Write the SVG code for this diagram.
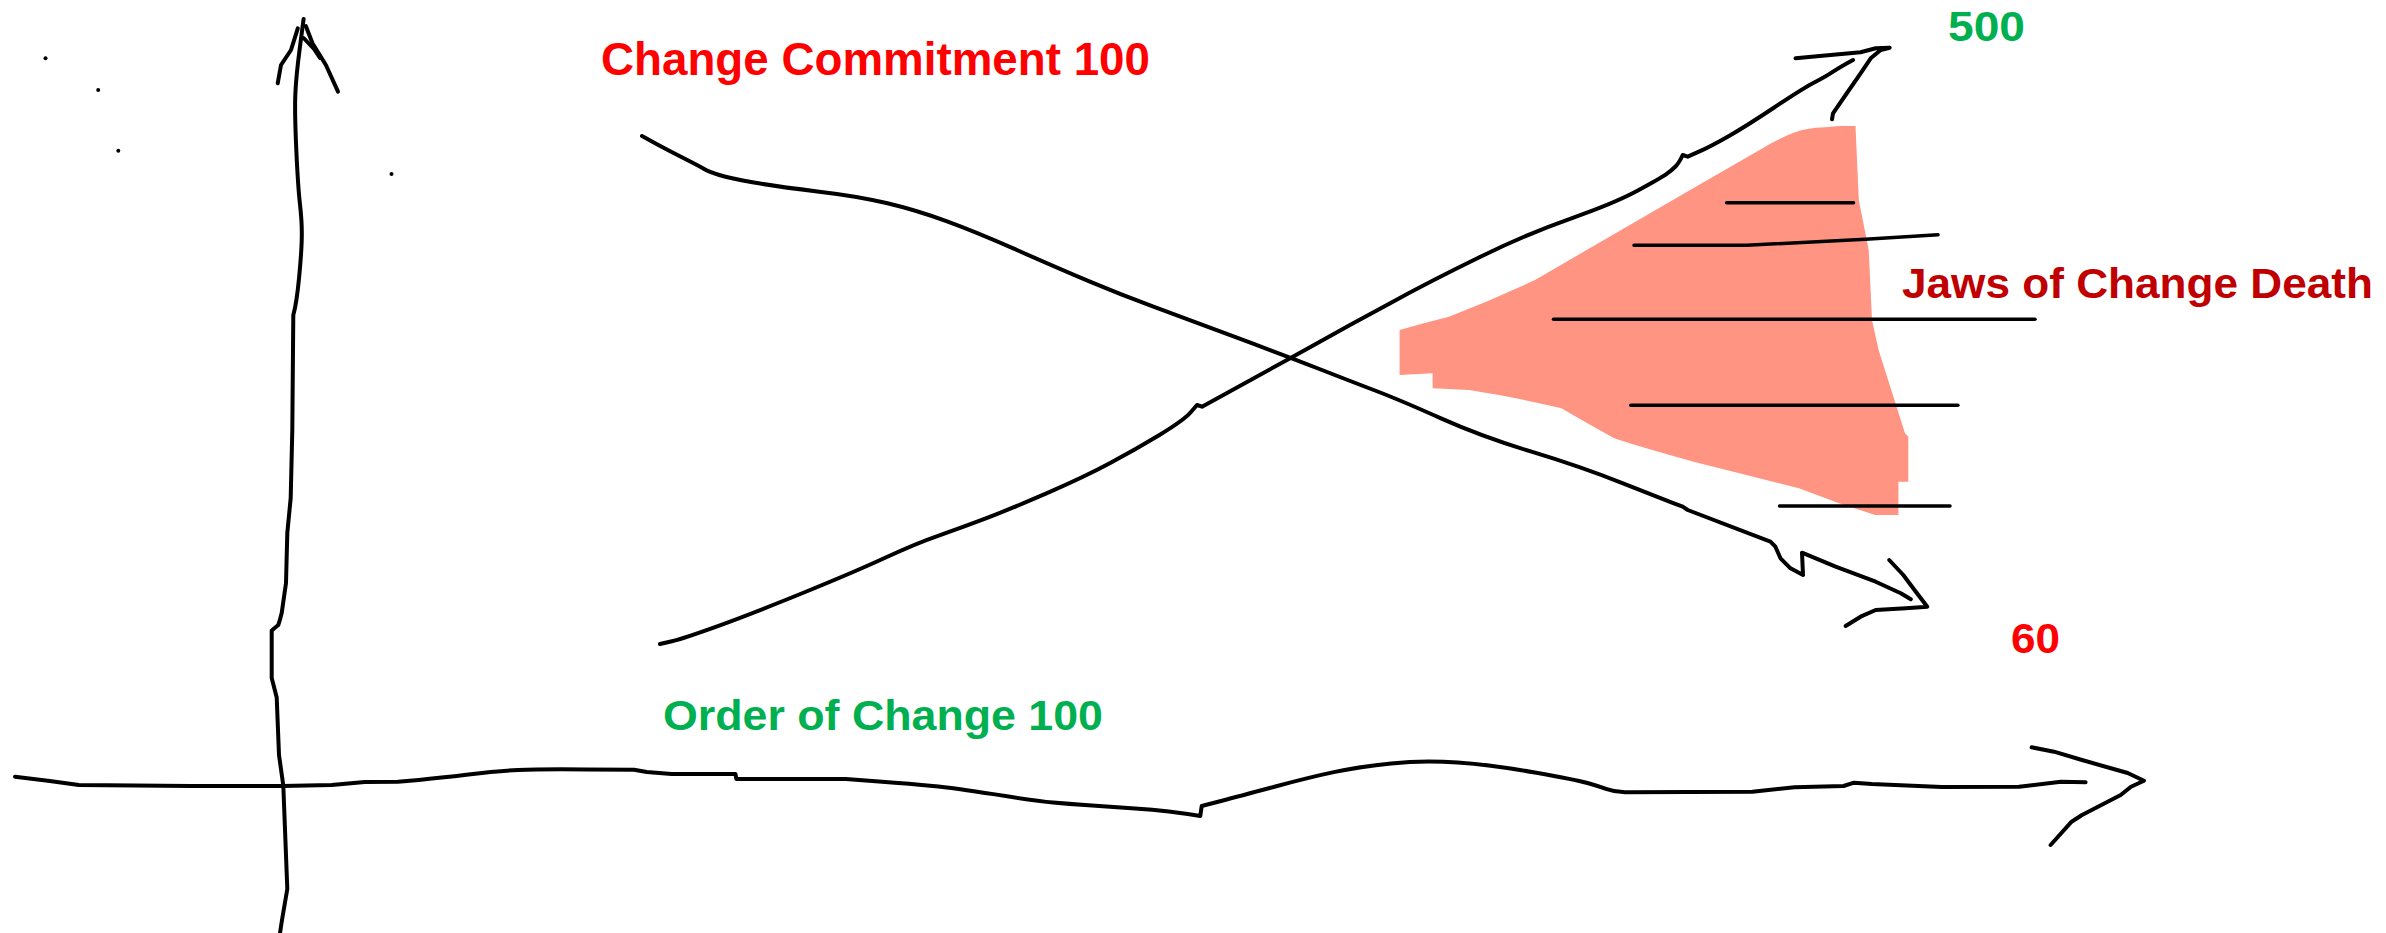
<svg xmlns="http://www.w3.org/2000/svg" width="2386" height="933" viewBox="0 0 2386 933">
<style>
.ink{fill:none;stroke:#000;stroke-width:4;stroke-linecap:round;stroke-linejoin:round}
.thick{stroke-width:4}
.jaw{stroke-width:3.5}
.lbl{font-family:"Liberation Sans",Arial,sans-serif;font-weight:bold}
.dot{fill:#000}
</style>
<rect width="2386" height="933" fill="#fff"/>
<g id="jaws-region">
<path fill="#FF9482" d="M1399.6,330 Q1420,324 1449,316.7 Q1492,300 1535,280 Q1591,247.5 1647,215 Q1703,182.5 1759.6,150 Q1790,132 1806,129.3 Q1815,127.5 1825.7,127.3 L1839,126 L1855.5,126 L1858.8,200 L1868.7,250 L1872,320 L1878.6,350 L1905,433.3 L1908.3,436.7 L1908.3,481.7 L1898.4,481.7 L1898.4,515 L1875.3,515 L1839,503.3 L1799,488.3 L1693.6,461.7 Q1640,447 1614.3,438.3 Q1590,425 1561.4,408.3 Q1515,397 1469,390 L1432.6,388.3 L1432.6,373.3 L1399.6,375 Z"/>
</g>
<g id="dots">
<circle class="dot" cx="45.5" cy="58.3" r="2"/>
<circle class="dot" cx="98.2" cy="90" r="2"/>
<circle class="dot" cx="118.3" cy="150.7" r="2"/>
<circle class="dot" cx="391.5" cy="174" r="2"/>
</g>
<g id="connectors">
<g id="y-axis">
<path class="ink" d="M303.6,19 L299.8,48 Q296,77 295.3,95 Q294.6,113 296.3,150 Q298,187 300,204.5 Q302,222 301.8,236 Q301.7,250 299.2,276.5 Q296.7,303 293.3,315 L292.3,430 L290.7,498 L287.3,533 L286,583 Q283.8,598 281.7,613 Q280,620 278.3,625 L271.7,630.5 L271.7,678 L276.7,697.5 L279,755 L283.3,785.5 L287.3,889 L282,920 L280,933"/>
<polyline class="ink" points="297.8,28.3 291,50 281,65 277.7,83.3"/>
<polyline class="ink" points="305.8,26 312.5,43.3 325.9,65 338,91.7"/>
<polyline class="ink" points="303.6,38 314,49 320,58"/>
</g>
<g id="x-axis">
<path class="ink thick" d="M15,776.7 L49.8,781 L78.8,785 L190.7,786 L282,786 L331.7,785 L364.8,782 L398,781.7 L418.8,779.9 Q439.5,778 468.5,774.5 Q497.5,771 518.3,770 Q539,769 586.5,769.4 L634,769.7 L646.8,772 L671.6,774 L735.5,774 L736.3,779 L845.8,779 L878.9,781.5 Q912,784 932.8,785.9 Q953.6,787.7 995,794.4 Q1036.5,801 1053.1,802.5 Q1069.7,804 1084.9,805 Q1100,806 1135,808.4 Q1170,810.7 1200.3,816 L1201.7,806 L1221,801 Q1240.3,796 1275.4,786.5 Q1310.5,777 1335,771.9 Q1359.6,766.7 1391.2,763.4 Q1422.7,760 1457.8,762.5 Q1492.8,765 1534.9,772.5 Q1577,780 1587.5,783 Q1598,786 1606.8,789.2 Q1615.6,792.3 1625,792.3 L1752.4,791.7 L1794.5,787.3 L1843.6,786 L1854,782.7 L1871.7,784 L1941.8,787 L2019,786.7 L2061,781.7 L2085.6,782.3"/>
<polyline class="ink thick" points="2031.6,747.3 2054,751.7 2082,760 2110,768 2127.7,773 2144,780.7 2131,786.7 2120.7,795 2082,815 2071.6,821.7 2050.6,845"/>
</g>
<g id="rising-line">
<path class="ink" d="M660,644 L672,641.2 Q684,638.3 718.5,625.8 Q753,613.3 804,592.5 Q855,571.7 885.7,557.5 Q916.3,543.3 936.7,536.3 Q957,529.3 982.5,519.7 Q1008,510 1046.4,493.4 Q1084.7,476.7 1110.2,463 Q1135.7,449.3 1159.9,434.7 Q1184,420 1190.5,412.5 L1197,405 L1202,406.7 L1288.8,359 L1350,325 L1389.7,303.4 Q1429.3,281.7 1478.9,257.5 Q1528.4,233.3 1571.4,218.3 Q1614.3,203.3 1637.4,190.8 Q1660.5,178.3 1666.3,174.2 Q1672,170 1675.5,166.5 Q1679,163 1682.7,155 L1687.7,156.7 L1698.9,151.7 Q1710,146.7 1727.7,136.7 Q1745.4,126.7 1774.2,107.5 Q1803,88.3 1814.3,82.5 Q1825.6,76.7 1833.1,71.7 Q1840.6,66.7 1853,60"/>
<polyline class="ink" points="1795.5,58.3 1830.6,55 1860.6,52.3 1875.7,48.3 1889.7,47.7 1880.7,50 1870.7,58.3 1860.6,73.3 1845.6,95 1833,113.3 1832,119.3"/>
</g>
<g id="falling-line">
<path class="ink" d="M642,136 L656.5,143.9 Q671,151.7 685.8,159.2 Q700.6,166.7 704.6,169.2 Q708.5,171.7 719.3,175 Q730,178.3 753.9,182.5 Q777.7,186.7 817.3,191.4 Q856.8,196 886.4,203 Q916,210 945.7,220.9 Q975.4,231.7 1015,249.2 Q1054.5,266.7 1088.1,280.9 Q1121.7,295 1153.4,306.7 Q1185,318.3 1236.9,337.7 Q1288.8,357 1319.4,369 Q1350,381 1375,390.5 Q1400,400 1441,418.4 Q1482,436.7 1531.5,451.7 Q1581,466.7 1623,483.4 Q1665,500 1673.9,503.4 L1682.7,506.7 L1687.7,510 L1770.4,541.7 L1775.4,546.7 L1780.5,558.3 L1790.5,568.3 L1803,575 L1802,552.7 L1835.6,566.7 L1875.7,581.7 L1900.8,593.3 L1910.8,599.3"/>
<polyline class="ink" points="1889.2,560 1903.3,575 1908.3,581.7 1918.3,595 1927.3,606.7 1905.8,608.3 1875.7,610 1860.6,616.7 1845.6,626"/>
</g>
<g id="jaw-lines">
<polyline class="ink jaw" points="1726.6,202.7 1853.5,202.7"/>
<polyline class="ink jaw" points="1634,245.3 1746.4,245.3 1865.4,239.3 1938,234.7"/>
<polyline class="ink jaw" points="1553.5,319.3 2035,319.3"/>
<polyline class="ink jaw" points="1630.8,405.3 1957.9,405.3"/>
<polyline class="ink jaw" points="1779.5,506 1950,506"/>
</g>
</g>
<g id="label-commitment"><text class="lbl" x="601" y="75" font-size="46" fill="#FF0000" textLength="549" lengthAdjust="spacingAndGlyphs">Change Commitment 100</text></g>
<g id="label-order"><text class="lbl" x="663" y="730" font-size="43" fill="#00B050" textLength="440" lengthAdjust="spacingAndGlyphs">Order of Change 100</text></g>
<g id="label-500"><text class="lbl" x="1948" y="41" font-size="43" fill="#00B050" textLength="77" lengthAdjust="spacingAndGlyphs">500</text></g>
<g id="label-60"><text class="lbl" x="2011" y="653" font-size="43" fill="#FF0000" textLength="49" lengthAdjust="spacingAndGlyphs">60</text></g>
<g id="label-jaws"><text class="lbl" x="1902" y="298" font-size="42" fill="#C00000" textLength="471" lengthAdjust="spacingAndGlyphs">Jaws of Change Death</text></g>
</svg>
